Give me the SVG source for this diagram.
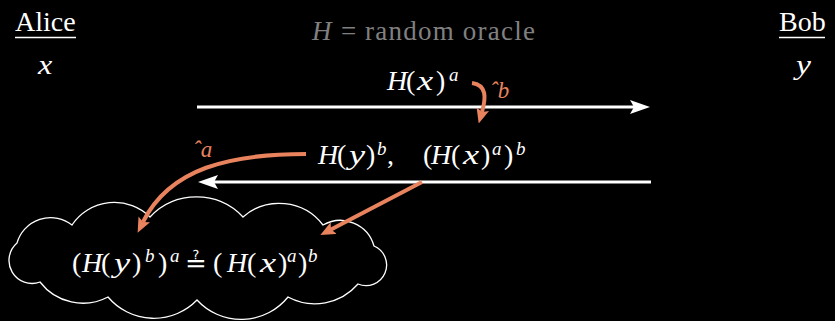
<svg xmlns="http://www.w3.org/2000/svg" width="835" height="321" viewBox="0 0 835 321">
<style>
.t{font-family:"Liberation Serif",serif;fill:#fff;font-size:28px}
.i{font-style:italic}
.s{font-size:19px;font-style:italic}
.g{fill:#808080;font-size:27px}
.o{fill:#e8835e;font-style:italic;font-size:23px}
.q{font-family:"DejaVu Serif","DejaVu Sans",serif;font-size:26px}
.ul{stroke:#fff;stroke-width:1.6}
.wl{stroke:#fff;stroke-width:3.2;fill:none}
.ol{stroke:#e8835e;stroke-width:4;fill:none}
</style>
<defs>
<marker id="wh" viewBox="0 0 20 14" refX="4" refY="7" markerWidth="20" markerHeight="14" markerUnits="userSpaceOnUse" orient="auto">
<path d="M0,0 L20,7 L0,14 L4,7 z" fill="#fff"/>
</marker>
<marker id="oh" viewBox="0 0 15 13" refX="3" refY="6.5" markerWidth="15" markerHeight="13" markerUnits="userSpaceOnUse" orient="auto">
<path d="M0,0 L15,6.5 L0,13 L3,6.5 z" fill="#e8835e"/>
</marker>
</defs>
<rect width="835" height="321" fill="#000"/>

<g id="alice">
<text class="t" x="15" y="31">Alice</text>
<line class="ul" x1="15" y1="37.5" x2="76" y2="37.5"/>
<text class="t i" transform="translate(38,74) scale(1.15,1)">x</text>
</g>

<g id="bob">
<text class="t" x="779" y="31">Bob</text>
<line class="ul" x1="779" y1="37.5" x2="825" y2="37.5"/>
<text class="t i" transform="translate(796,74) scale(1.2,1)">y</text>
</g>

<g id="oracle">
<text class="t g" x="312" y="40"><tspan class="i">H</tspan><tspan x="341">=</tspan><tspan x="365" textLength="170" lengthAdjust="spacing">random oracle</tspan></text>
</g>

<g id="msg1">
<text class="t" y="90"><tspan class="i" x="387">H</tspan><tspan x="406">(</tspan><tspan x="436">)</tspan><tspan class="s" x="449" y="81">a</tspan></text>
<text class="t i" transform="translate(417,90) scale(1.3,1)">x</text>
</g>

<g id="msg2">
<text class="t" y="164"><tspan class="i" x="318">H</tspan><tspan x="337">(</tspan><tspan x="366">)</tspan><tspan class="s" x="377" y="155">b</tspan><tspan x="387" y="164">,</tspan><tspan x="423">(</tspan><tspan class="i" x="431">H</tspan><tspan x="451">(</tspan><tspan x="481">)</tspan><tspan class="s" x="492" y="155">a</tspan><tspan x="504" y="164">)</tspan><tspan class="s" x="516" y="155">b</tspan></text>
<text class="t i" transform="translate(349,164) scale(1.3,1)">y</text>
<text class="t i" transform="translate(463,164) scale(1.3,1)">x</text>
</g>

<g id="cloud">
<path d="M17,243 A35,35 0 0 1 72,225 A51,51 0 0 1 150,217 A64,64 0 0 1 243,217 A55,55 0 0 1 323,225 A35,35 0 0 1 374,246 A20,20 0 0 1 358,284 A57,57 0 0 1 288,297 A60,60 0 0 1 197,300 A60,60 0 0 1 108,297 A54,54 0 0 1 40,282 A23,23 0 0 1 17,243 Z" fill="none" stroke="#fff" stroke-width="1.3"/>
<text class="t" y="272"><tspan x="72">(</tspan><tspan class="i" x="82">H</tspan><tspan x="101">(</tspan><tspan x="132">)</tspan><tspan class="s" x="145" y="262">b</tspan><tspan x="158" y="272">)</tspan><tspan class="s" x="170" y="262">a</tspan><tspan class="q" x="185" y="272">≟</tspan><tspan x="213">(</tspan><tspan class="i" x="227">H</tspan><tspan x="247">(</tspan><tspan x="278">)</tspan><tspan class="s" x="287" y="262">a</tspan><tspan x="298" y="272">)</tspan><tspan class="s" x="308" y="262">b</tspan></text>
<text class="t i" transform="translate(114,272) scale(1.3,1)">y</text>
<text class="t i" transform="translate(260,272) scale(1.3,1)">x</text>
</g>

<g id="connectors">
<path class="wl" d="M197,107 L634,107" marker-end="url(#wh)"/>
<path class="wl" d="M651,182 L214,182" marker-end="url(#wh)"/>
<path class="ol" d="M472,83 C487,85 486,98 482,112" marker-end="url(#oh)"/>
<path class="ol" d="M306,154 C230,154 170,168 143,222" marker-end="url(#oh)"/>
<path class="ol" d="M422,182 L331,229.5" marker-end="url(#oh)"/>
<text class="t o" x="490" y="98">ˆb</text>
<text class="t o" x="193" y="157">ˆa</text>
</g>
</svg>
